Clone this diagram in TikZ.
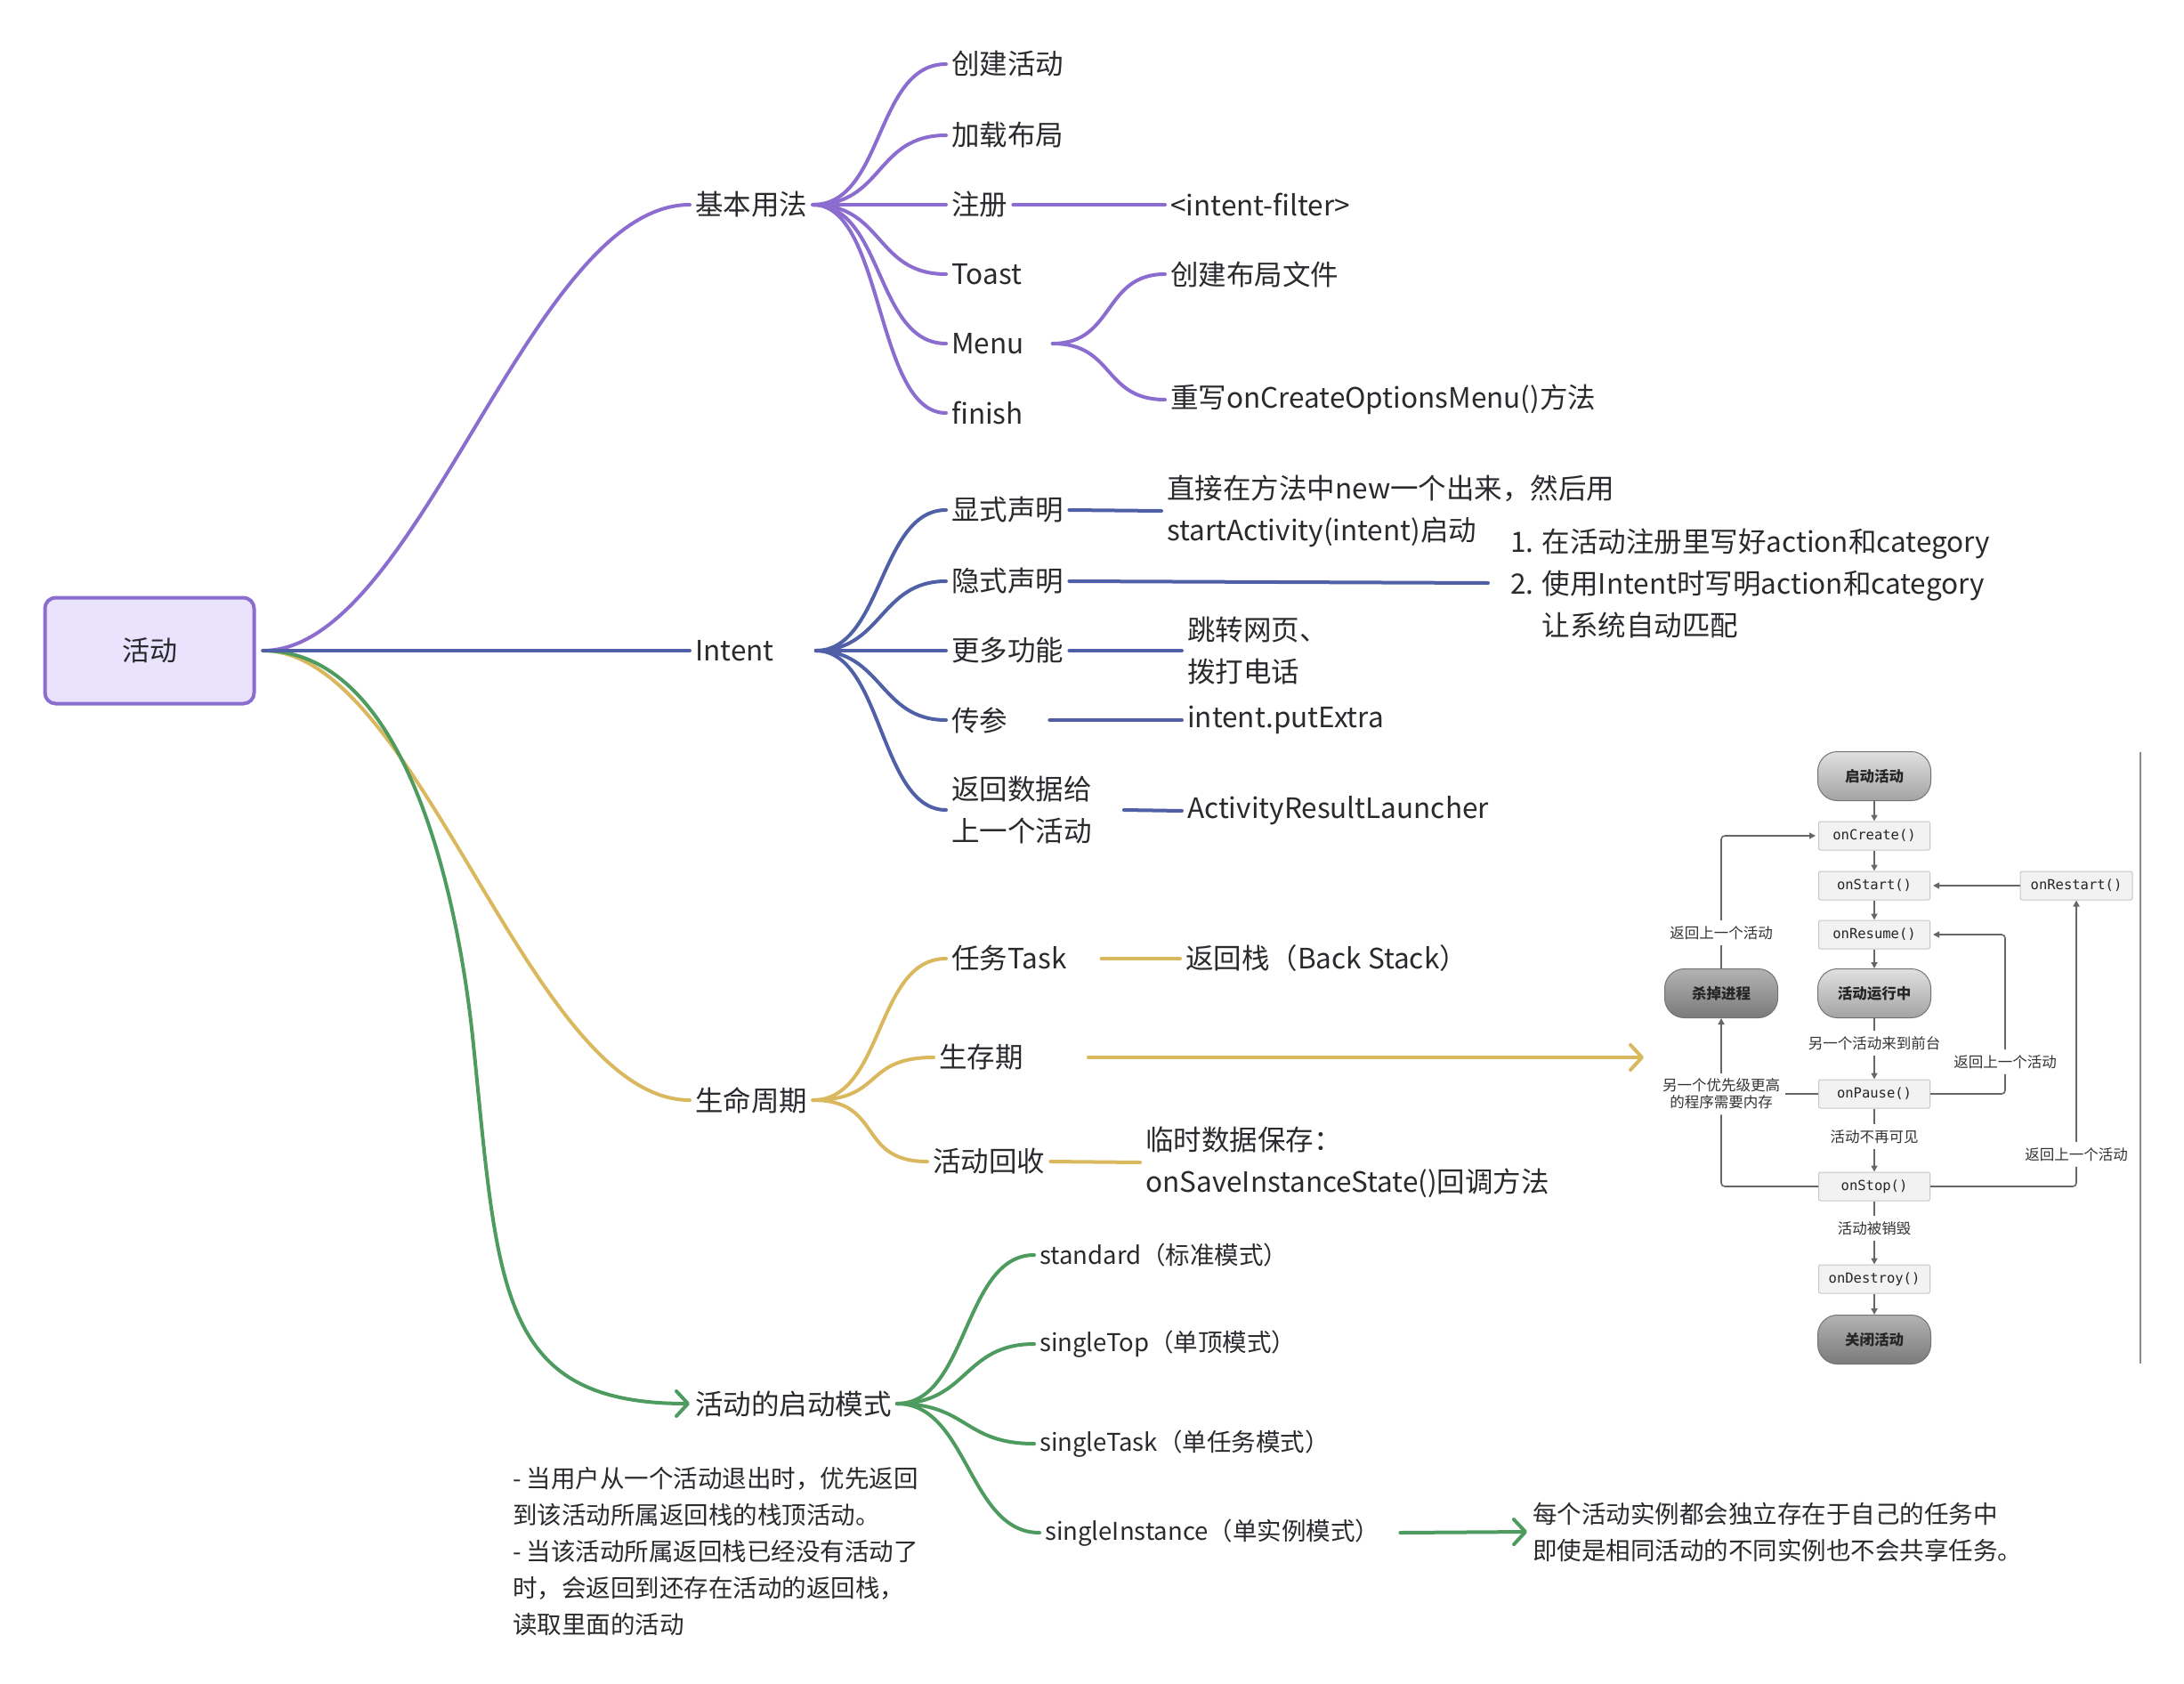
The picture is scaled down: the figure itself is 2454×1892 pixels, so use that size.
\documentclass[tikz,border=0pt]{standalone}
\usepackage{fontspec}
\setmainfont{Noto Sans CJK SC}
\newfontfamily\monof{DejaVu Sans Mono}
\usetikzlibrary{arrows.meta}
\definecolor{cpur}{HTML}{8B6DCF}
\definecolor{cblu}{HTML}{5060A6}
\definecolor{cyel}{HTML}{D9B85E}
\definecolor{cgrn}{HTML}{4E9B60}
\definecolor{rootfill}{HTML}{EAE3FD}
\definecolor{txt}{HTML}{2A2A2E}
\tikzset{
  mm/.style={anchor=west, inner xsep=6pt, inner ysep=2pt, text=txt, align=left, font=\fontsize{31.5}{47}\selectfont},
  mms/.style={mm, font=\fontsize{27.5}{41}\selectfont},
  link/.style={line width=4pt, line cap=round},
  chev/.style={-{Straight Barb[length=13pt,width=28pt,round]}},
  stad/.style={draw=black!55, line width=1pt, rounded corners=22pt, minimum width=127pt, minimum height=55pt, top color=black!12, bottom color=black!36, font=\fontsize{16.5}{19}\selectfont\bfseries, text=black!85},
  stadd/.style={stad, top color=black!30, bottom color=black!52},
  meth/.style={draw=black!22, fill=black!5, line width=1pt, rounded corners=2pt, minimum width=125pt, minimum height=32pt, font=\monof\fontsize{15.5}{18}\selectfont, text=black!85},
  lcl/.style={font=\fontsize{16.5}{19}\selectfont, text=black!80, inner sep=6pt, align=center},
  lc/.style={draw=black!60, line width=1.6pt},
  lca/.style={lc, -{Triangle[length=7pt,width=7pt]}},
}
\begin{document}
\begin{tikzpicture}[x=1pt,y=-1pt]
\useasboundingbox (0,0) rectangle (2454,1892);
\fill[white] (0,0) rectangle (2454,1892);

% root
\node[draw=cpur, fill=rootfill, line width=4pt, rounded corners=12pt, minimum width=235pt, minimum height=119pt, text=txt, font=\fontsize{31}{40}\selectfont] (root) at (168,731) {活动};

% level 1
\node[mm] (b1) at (775,230) {基本用法};
\node[mm] (b2) at (775,731) {Intent};
\node[mm] (b3) at (775,1236) {生命周期};
\node[mm] (b4) at (775,1577) {活动的启动模式};
\coordinate (gmid) at (532,1174);

\draw[link,cyel] ([xshift=8pt]root.east) .. controls +(175,0) and +(-180,0) .. (b3.west);
\draw[link,cgrn,chev] ([xshift=8pt]root.east) .. controls +(175,0) and +(-12,-120) .. (gmid)
  .. controls +(28,276) and +(-215,0) .. (b4.west);
\draw[link,cpur] ([xshift=8pt]root.east) .. controls +(175,0) and +(-180,0) .. (b1.west);
\draw[link,cblu] ([xshift=8pt]root.east) -- (b2.west);

% 基本用法
\node[mm] (c11) at (1063,72) {创建活动};
\node[mm] (c12) at (1063,152) {加载布局};
\node[mm] (c13) at (1063,230) {注册};
\node[mm] (c14) at (1063,308) {Toast};
\node[mm] (c15) at (1063,386) {Menu};
\node[mm] (c16) at (1063,464) {finish};
\node[mm] (c131) at (1309,230) {<intent-filter>};
\node[mm] (c151) at (1309,308) {创建布局文件};
\node[mm] (c152) at (1309,449) {重写onCreateOptionsMenu()方法};
\foreach \c in {c11,c12,c13,c14,c15,c16}
  \draw[link,cpur] (b1.east) .. controls +(80,0) and +(-80,0) .. (\c.west);
\draw[link,cpur] (c13.east) -- (c131.west);
\draw[link,cpur] ([xshift=26pt]c15.east) .. controls +(70,0) and +(-70,0) .. (c151.west);
\draw[link,cpur] ([xshift=26pt]c15.east) .. controls +(70,0) and +(-70,0) .. (c152.west);

% Intent
\node[mm] (c21) at (1063,573) {显式声明};
\node[mm] (c22) at (1063,653) {隐式声明};
\node[mm] (c23) at (1063,731) {更多功能};
\node[mm] (c24) at (1063,809) {传参};
\node[mm] (c25) at (1063,910) {返回数据给\\上一个活动};
\node[mm] (c211) at (1305,574) {直接在方法中new一个出来，然后用\\startActivity(intent)启动};
\node[mm] (c221) at (1691,655) {1. 在活动注册里写好action和category\\2. 使用Intent时写明action和category\\\hphantom{2. }让系统自动匹配};
\node[mm] (c231) at (1328,731) {跳转网页、\\拨打电话};
\node[mm] (c241) at (1328,809) {intent.putExtra};
\node[mm] (c251) at (1328,911) {ActivityResultLauncher};
\foreach \c in {c21,c22,c23,c24,c25}
  \draw[link,cblu] ([xshift=41pt]b2.east) .. controls +(75,0) and +(-75,0) .. (\c.west);
\draw[link,cblu] (c21.east) -- (c211.west);
\draw[link,cblu] (c22.east) -- ([xshift=-19pt]c221.west);
\draw[link,cblu] (c23.east) -- (c231.west);
\draw[link,cblu] ([xshift=41pt]c24.east) -- (c241.west);
\draw[link,cblu] ([xshift=30pt]c25.east) -- (c251.west);

% 生命周期
\node[mm] (c31) at (1063,1077) {任务Task};
\node[mm] (c32) at (1049,1188) {生存期};
\node[mm] (c33) at (1042,1305) {活动回收};
\node[mm] (c311) at (1326,1077) {返回栈（Back Stack）};
\node[mm] (c331) at (1281,1306) {临时数据保存：\\onSaveInstanceState()回调方法};
\coordinate (lifeend) at (1847,1188);
\foreach \c in {c31,c32,c33}
  \draw[link,cyel] (b3.east) .. controls +(80,0) and +(-80,0) .. (\c.west);
\draw[link,cyel] ([xshift=33pt]c31.east) -- (c311.west);
\draw[link,cyel,chev] ([xshift=67pt]c32.east) -- (lifeend);
\draw[link,cyel] (c33.east) -- (c331.west);

% 启动模式
\node[mms] (c41) at (1162,1410) {standard（标准模式）};
\node[mms] (c42) at (1162,1510) {singleTop（单顶模式）};
\node[mms] (c43) at (1162,1622) {singleTask（单任务模式）};
\node[mms] (c44) at (1168,1722) {singleInstance（单实例模式）};
\node[mms] (c441) at (1716,1721) {每个活动实例都会独立存在于自己的任务中\\即使是相同活动的不同实例也不会共享任务。};
\foreach \c in {c41,c42,c43,c44}
  \draw[link,cgrn] (b4.east) .. controls +(80,0) and +(-80,0) .. (\c.west);
\draw[link,cgrn,chev] ([xshift=17pt]c44.east) -- (c441.west);

\node[mms] (n1) at (570,1743) {- 当用户从一个活动退出时，优先返回\\到该活动所属返回栈的栈顶活动。\\- 当该活动所属返回栈已经没有活动了\\时，会返回到还存在活动的返回栈，\\读取里面的活动};

% lifecycle diagram
\node[stad] (start) at (2106,872) {启动活动};
\node[meth] (onCreate) at (2106,939) {onCreate()};
\node[meth] (onStart) at (2106,995) {onStart()};
\node[meth] (onResume) at (2106,1050) {onResume()};
\node[stad] (run) at (2106,1116) {活动运行中};
\node[stadd] (kill) at (1934,1116) {杀掉进程};
\node[meth, minimum width=126pt] (onRestart) at (2333,995) {onRestart()};
\node[meth] (onPause) at (2106,1229) {onPause()};
\node[meth] (onStop) at (2106,1333) {onStop()};
\node[meth] (onDestroy) at (2106,1437) {onDestroy()};
\node[stadd] (close) at (2106,1505) {关闭活动};
\node[lcl] (l1) at (2106,1172) {另一个活动来到前台};
\node[lcl] (l2) at (2106,1277) {活动不再可见};
\node[lcl] (l3) at (2106,1380) {活动被销毁};
\node[lcl] (l4) at (2253,1193) {返回上一个活动};
\node[lcl] (l5) at (2333,1297) {返回上一个活动};
\node[lcl] (l6) at (1934,1229) {另一个优先级更高\\的程序需要内存};
\node[lcl] (l7) at (1934,1048) {返回上一个活动};

\draw[lca] (start) -- (onCreate);
\draw[lca] (onCreate) -- (onStart);
\draw[lca] (onStart) -- (onResume);
\draw[lca] (onResume) -- (run);
\draw[lc] (run) -- (l1);
\draw[lca] (l1) -- (onPause);
\draw[lc] (onPause) -- (l2);
\draw[lca] (l2) -- (onStop);
\draw[lc] (onStop) -- (l3);
\draw[lca] (l3) -- (onDestroy);
\draw[lca] (onDestroy) -- (close);
\draw[lca] (onRestart.west) -- ([xshift=3pt]onStart.east);
\draw[lc, rounded corners=4pt] (onPause.east) -| (l4.south);
\draw[lca, rounded corners=4pt] (l4.north) |- ([xshift=3pt]onResume.east);
\draw[lc, rounded corners=4pt] (onStop.east) -| (l5.south);
\draw[lca] (l5.north) -- (onRestart.south);
\draw[lc, rounded corners=4pt] (onStop.west) -| (l6.south);
\draw[lc] (onPause.west) -- (l6.east);
\draw[lca] (l6.north) -- (kill.south);
\draw[lc] (kill.north) -- (l7.south);
\draw[lca, rounded corners=4pt] (l7.north) |- ([xshift=-3pt]onCreate.west);
\draw[black!45, line width=1.2pt] (2405,845) -- (2405,1532);
\end{tikzpicture}
\end{document}
